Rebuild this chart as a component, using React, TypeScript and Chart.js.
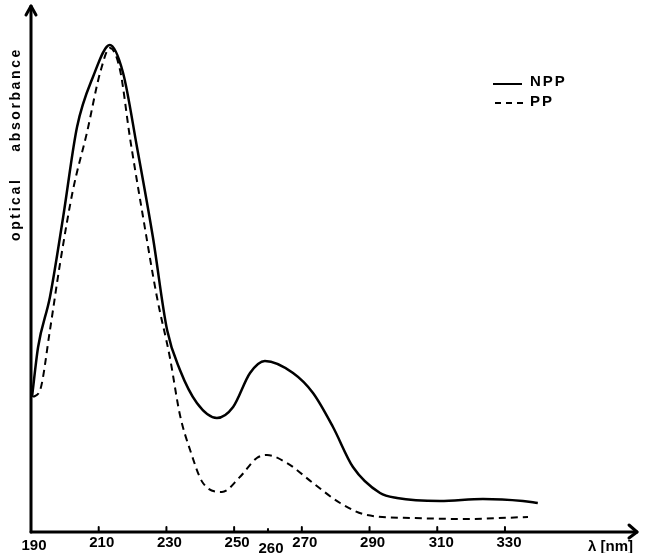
import React, { useEffect, useRef } from "react";
import { Chart, registerables } from "chart.js";

Chart.register(...registerables);

// ---- data ----
const nppWavelength = [190.3, 192.1, 195.6, 199.5, 203.6, 208.3, 213.3, 217.2, 221.3, 226, 230.2, 234, 239, 244.9, 249.7, 254.7, 259.1, 267.4, 273.3, 279.2, 285.1, 293.1, 298.1, 310.8, 323.5, 335.3, 339.7];
const nppAbsorbance = [27.2, 37.2, 47.2, 63.2, 81.2, 91.2, 97.6, 92, 77.2, 59.2, 40.6, 32.6, 26, 23, 25.2, 32, 34.4, 32, 28, 21.2, 13.2, 8, 7, 6.4, 6.8, 6.4, 6];
const ppWavelength = [190.6, 192.7, 195.6, 198.6, 202.4, 206.5, 210.4, 213.3, 216.3, 219.2, 223.1, 227.2, 231, 234, 237, 240.8, 246.4, 251.7, 256.7, 259.7, 265.6, 273.3, 281.3, 289.2, 302.8, 317.6, 336.8];
const ppAbsorbance = [27.2, 28.6, 40.6, 54, 68.6, 80, 92, 97, 92.6, 79.2, 63.2, 47.2, 35.2, 23.6, 16.6, 10, 8.2, 11.2, 15, 15.6, 14, 10, 6, 3.6, 3, 2.8, 3.2];
const xTickValues = [190, 210, 230, 250, 260, 270, 290, 310, 330];
const xTickLabels = ["190", "210", "230", "250", "260", "270", "290", "310", "330"];
const seriesNames = ["NPP", "PP"];
const xAxisTitle = "λ [nm]";
const yAxisTitle = "optical    absorbance";
const xMin = 190;
const xMax = 369;
const yMin = 0;
const yMax = 105;

const FONT = "'Liberation Sans', Arial, Helvetica, sans-serif";

const handAxes = {
  id: "handAxes",
  afterDraw(chart: any) {
    const { ctx, scales } = chart;
    const xs = scales.x;
    const ys = scales.y;
    const x0 = xs.getPixelForValue(xMin);
    const y0 = ys.getPixelForValue(yMin) - 1;
    const xEnd = xs.getPixelForValue(xMax);
    const yTop = ys.getPixelForValue(yMax) - 2;
    ctx.save();
    ctx.strokeStyle = "#000";
    ctx.fillStyle = "#000";
    ctx.lineWidth = 3;
    ctx.lineCap = "round";
    ctx.lineJoin = "round";
    // y axis
    ctx.beginPath();
    ctx.moveTo(x0, y0);
    ctx.lineTo(x0, yTop);
    ctx.stroke();
    ctx.beginPath();
    ctx.moveTo(x0 - 5, yTop + 9);
    ctx.lineTo(x0, yTop);
    ctx.lineTo(x0 + 5, yTop + 9);
    ctx.stroke();
    // x axis
    ctx.beginPath();
    ctx.moveTo(x0, y0);
    ctx.lineTo(xEnd, y0);
    ctx.stroke();
    ctx.beginPath();
    ctx.moveTo(xEnd - 8, y0 - 7);
    ctx.lineTo(xEnd, y0);
    ctx.lineTo(xEnd - 8, y0 + 6);
    ctx.stroke();
    // ticks (upward)
    ctx.lineWidth = 2;
    xTickValues.forEach((v) => {
      if (v === xMin) return;
      const px = xs.getPixelForValue(v);
      ctx.beginPath();
      ctx.moveTo(px, y0);
      ctx.lineTo(px, y0 - (v === 260 ? 3 : 5));
      ctx.stroke();
    });
    // tick labels
    ctx.font = `bold 15px ${FONT}`;
    ctx.textAlign = "center";
    ctx.textBaseline = "top";
    xTickValues.forEach((v, i) => {
      const px = xs.getPixelForValue(v);
      let dx = 3;
      let ty = y0 + 3;
      if (v === 190) { ty = y0 + 6; }
      if (v === 260) { ty = y0 + 9; }
      if (v >= 310) dx = 4;
      ctx.fillText(xTickLabels[i], px + dx, ty);
    });
    // x title
    ctx.textAlign = "left";
    ctx.fillText(xAxisTitle, 588, y0 + 7);
    // y title
    ctx.save();
    ctx.translate(x0 - 15, 144);
    ctx.rotate(-Math.PI / 2);
    ctx.textAlign = "center";
    ctx.textBaseline = "middle";
    ctx.font = `bold 14px ${FONT}`;
    (ctx as any).letterSpacing = "2.6px";
    ctx.fillText(yAxisTitle, 0, 0);
    ctx.restore();
    // legend
    ctx.font = `bold 15px ${FONT}`;
    (ctx as any).letterSpacing = "2px";
    ctx.textAlign = "left";
    ctx.textBaseline = "middle";
    ctx.lineWidth = 2;
    ctx.lineCap = "butt";
    ctx.beginPath();
    ctx.moveTo(493, 84);
    ctx.lineTo(522, 84);
    ctx.stroke();
    ctx.fillText(seriesNames[0], 530, 82);
    ctx.setLineDash([6, 5]);
    ctx.beginPath();
    ctx.moveTo(495, 103);
    ctx.lineTo(525, 103);
    ctx.stroke();
    ctx.setLineDash([]);
    ctx.fillText(seriesNames[1], 530, 102);
    ctx.restore();
  },
};

export default function App() {
  const ref = useRef<HTMLCanvasElement | null>(null);
  useEffect(() => {
    if (!ref.current) return;
    const chart = new Chart(ref.current, {
      type: "line",
      data: {
        datasets: [
          {
            label: seriesNames[0],
            data: nppWavelength.map((x, i) => ({ x, y: nppAbsorbance[i] })),
            borderColor: "#000",
            borderWidth: 2.5,
            pointRadius: 0,
            cubicInterpolationMode: "monotone",
            fill: false,
          },
          {
            label: seriesNames[1],
            data: ppWavelength.map((x, i) => ({ x, y: ppAbsorbance[i] })),
            borderColor: "#000",
            borderWidth: 2,
            borderDash: [7, 5],
            pointRadius: 0,
            cubicInterpolationMode: "monotone",
            fill: false,
          },
        ],
      },
      options: {
        animation: false,
        responsive: false,
        devicePixelRatio: 1,
        layout: { padding: { left: 31, right: 16, top: 8, bottom: 20 } },
        plugins: { legend: { display: false }, tooltip: { enabled: false } },
        scales: {
          x: { type: "linear", min: xMin, max: xMax, display: false },
          y: { type: "linear", min: yMin, max: yMax, display: false },
        },
      },
      plugins: [handAxes],
    });
    return () => chart.destroy();
  }, []);
  return (
    <div style={{ position: "fixed", left: 0, top: 0, width: 653, height: 553, background: "#fff" }}>
      <canvas ref={ref} width={653} height={553} />
    </div>
  );
}
